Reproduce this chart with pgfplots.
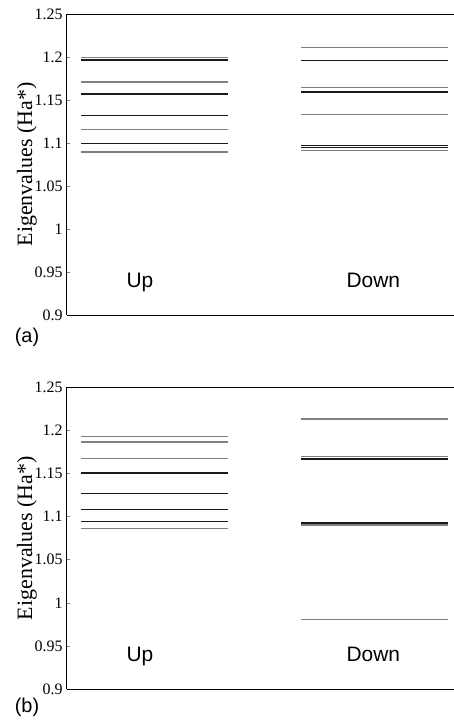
\documentclass[border=0pt]{standalone}
\usepackage{fontspec}
\setmainfont{Liberation Serif}
\setsansfont{Liberation Sans}
\usepackage{pgfplots}
\pgfplotsset{compat=1.18}
\definecolor{lg}{HTML}{808080}
\definecolor{dk}{HTML}{1A1A1A}
\tikzset{lbl/.style={font=\sffamily\fontsize{21}{21}\selectfont, anchor=base}}
\pgfplotsset{
  lev/.style={
    scale only axis, width=387.3bp,
    xmin=0, xmax=387.3, ymin=0.9, ymax=1.25,
    axis x line*=box, axis y line*=left,
    axis line style={black, line width=0.8pt},
    xtick=\empty,
    ytick={0.9,0.95,1,1.05,1.1,1.15,1.2,1.25},
    yticklabels={0.9,0.95,1,1.05,1.1,1.15,1.2,1.25},
    tick align=inside, major tick length=3bp,
    y tick style={lg, line width=0.5pt},
    yticklabel style={font=\rmfamily\fontsize{16}{16}\selectfont, inner sep=0pt, xshift=-4bp},
    every axis y label/.style={at={(axis description cs:-0.1025,0.5)}, rotate=90, anchor=center, font=\rmfamily\fontsize{22}{22}\selectfont},
    ylabel={Eigenvalues (Ha*)},
    clip=false,
  },
  g/.style={lg, line width=1.2pt},
  k/.style={dk, line width=1.2pt},
}
\begin{document}
\begin{tikzpicture}
\useasboundingbox (0,0) rectangle (454bp,723bp);
% ---------- panel (a)
\begin{axis}[lev, at={(66.7bp,408bp)}, anchor=south west, height=301bp]
\addplot[g] coordinates {(14.3,1.1992) (161,1.1992)};
\addplot[k] coordinates {(14.3,1.1965) (161,1.1965)};
\addplot[g] coordinates {(14.3,1.1709) (161,1.1709)};
\addplot[k] coordinates {(14.3,1.1580) (161,1.1580)};
\addplot[k] coordinates {(14.3,1.1568) (161,1.1568)};
\addplot[k] coordinates {(14.3,1.1322) (161,1.1322)};
\addplot[g] coordinates {(14.3,1.1155) (161,1.1155)};
\addplot[k] coordinates {(14.3,1.0992) (161,1.0992)};
\addplot[g] coordinates {(14.3,1.0895) (161,1.0895)};
\addplot[g] coordinates {(234.3,1.2108) (381,1.2108)};
\addplot[k] coordinates {(234.3,1.1962) (381,1.1962)};
\addplot[g] coordinates {(234.3,1.1648) (381,1.1648)};
\addplot[k] coordinates {(234.3,1.1602) (381,1.1602)};
\addplot[k] coordinates {(234.3,1.1592) (381,1.1592)};
\addplot[g] coordinates {(234.3,1.1330) (381,1.1330)};
\addplot[k] coordinates {(234.3,1.0968) (381,1.0968)};
\addplot[k] coordinates {(234.3,1.0945) (381,1.0945)};
\addplot[g] coordinates {(234.3,1.0915) (381,1.0915)};
\node[lbl] at (axis cs:73.3,0.9322) {Up};
\node[lbl] at (axis cs:306.6,0.9322) {Down};
\end{axis}
\node[font=\sffamily\fontsize{20}{20}\selectfont] at (27bp,386bp) {(a)};
% ---------- panel (b)
\begin{axis}[lev, at={(66.7bp,34bp)}, anchor=south west, height=301.7bp]
\addplot[g] coordinates {(14.3,1.1932) (161,1.1932)};
\addplot[g] coordinates {(14.3,1.1865) (161,1.1865)};
\addplot[g] coordinates {(14.3,1.1676) (161,1.1676)};
\addplot[k] coordinates {(14.3,1.1513) (161,1.1513)};
\addplot[k] coordinates {(14.3,1.1503) (161,1.1503)};
\addplot[k] coordinates {(14.3,1.1270) (161,1.1270)};
\addplot[k] coordinates {(14.3,1.1087) (161,1.1087)};
\addplot[k] coordinates {(14.3,1.0947) (161,1.0947)};
\addplot[g] coordinates {(14.3,1.0862) (161,1.0862)};
\addplot[g] coordinates {(234.3,1.2132) (381,1.2132)};
\addplot[g] coordinates {(234.3,1.1697) (381,1.1697)};
\addplot[k] coordinates {(234.3,1.1677) (381,1.1677)};
\addplot[k] coordinates {(234.3,1.1667) (381,1.1667)};
\addplot[g] coordinates {(234.3,1.0935) (381,1.0935)};
\addplot[k] coordinates {(234.3,1.0925) (381,1.0925)};
\addplot[k] coordinates {(234.3,1.0915) (381,1.0915)};
\addplot[g] coordinates {(234.3,1.0903) (381,1.0903)};
\addplot[g] coordinates {(234.3,0.9805) (381,0.9805)};
\node[lbl] at (axis cs:73.3,0.9317) {Up};
\node[lbl] at (axis cs:306.6,0.9317) {Down};
\end{axis}
\node[font=\sffamily\fontsize{20}{20}\selectfont] at (27bp,16bp) {(b)};
\end{tikzpicture}
\end{document}
